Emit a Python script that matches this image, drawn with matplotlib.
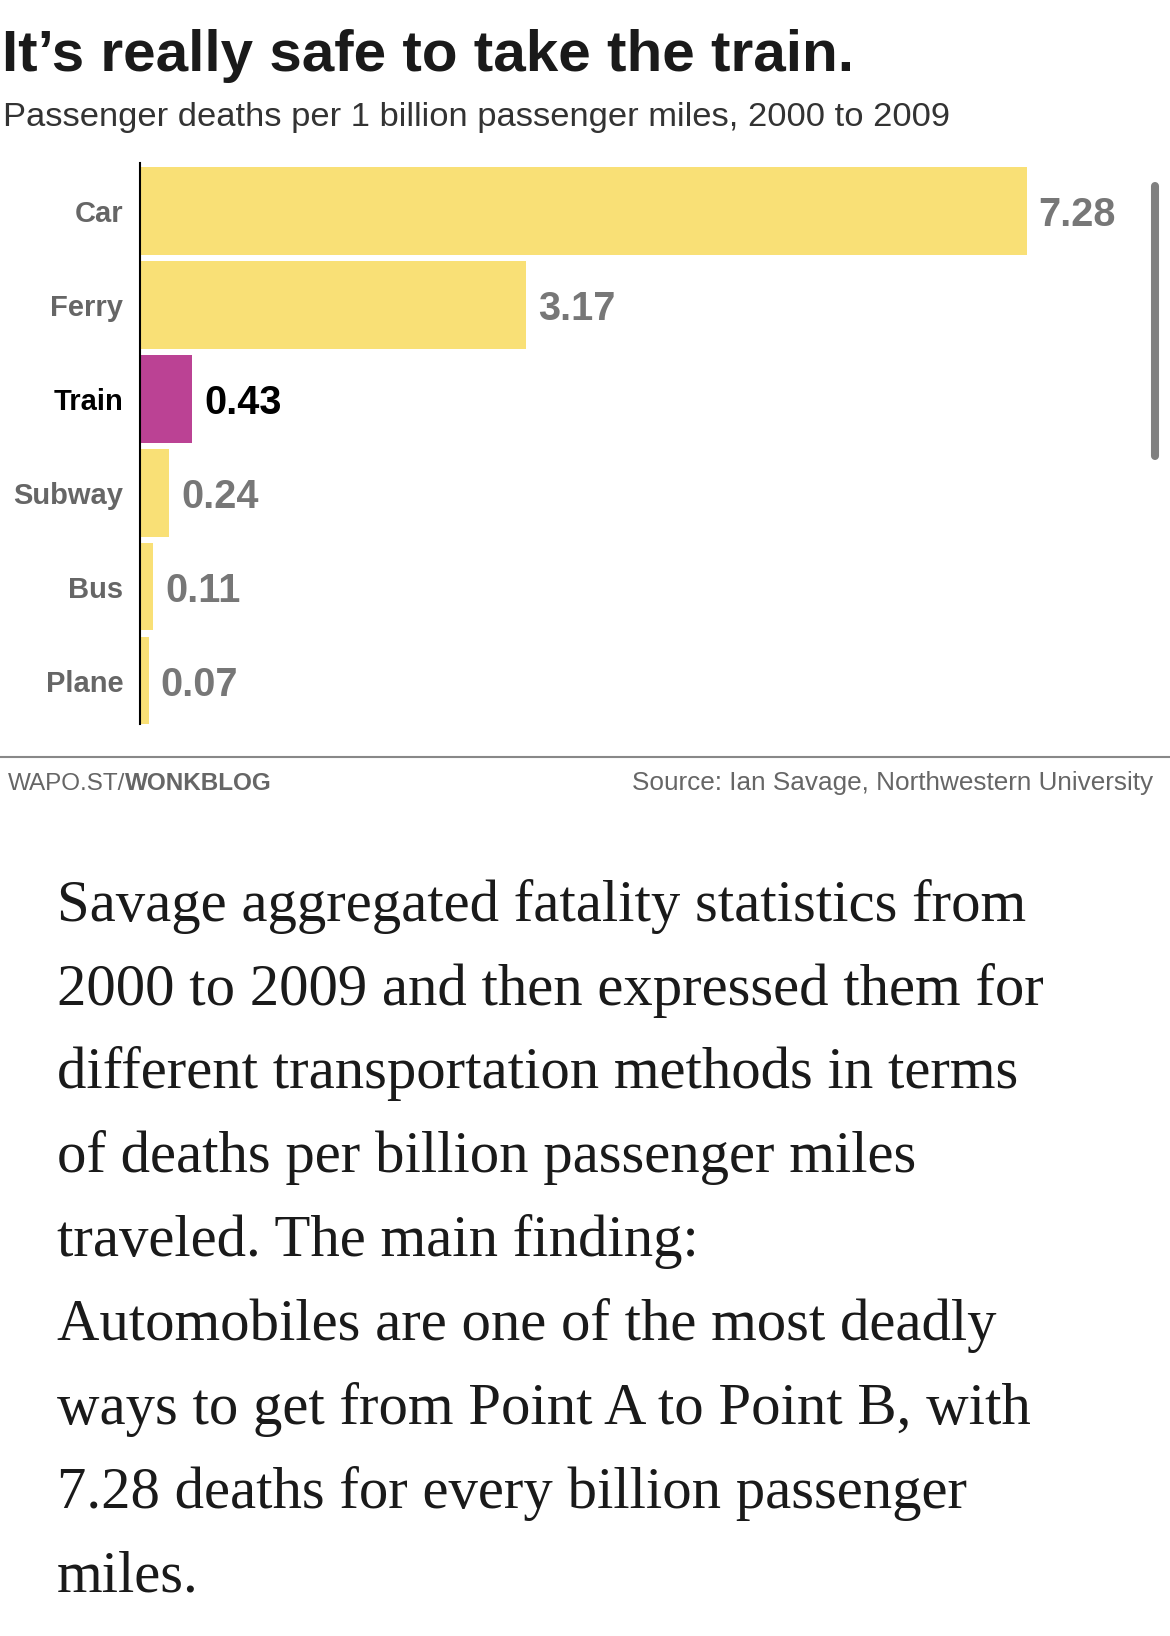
import matplotlib
matplotlib.use("Agg")
import matplotlib.pyplot as plt
from matplotlib.lines import Line2D

# ---------------- data ----------------
categories = ["Car", "Ferry", "Train", "Subway", "Bus", "Plane"]
values = [7.28, 3.17, 0.43, 0.24, 0.11, 0.07]
value_labels = ["7.28", "3.17", "0.43", "0.24", "0.11", "0.07"]
highlight = "Train"

title = "It\u2019s really safe to take the train."
subtitle = "Passenger deaths per 1 billion passenger miles, 2000 to 2009"
credit_light = "WAPO.ST/"
credit_bold = "WONKBLOG"
source = "Source: Ian Savage, Northwestern University"
body_lines = [
    "Savage aggregated fatality statistics from",
    "2000 to 2009 and then expressed them for",
    "different transportation methods in terms",
    "of deaths per billion passenger miles",
    "traveled. The main finding:",
    "Automobiles are one of the most deadly",
    "ways to get from Point A to Point B, with",
    "7.28 deaths for every billion passenger",
    "miles.",
]

# ---------------- style ----------------
W, H, DPI = 1170, 1636, 100
YELLOW = "#F9E076"
MAGENTA = "#BB4294"
GRAY_LABEL = "#666666"
GRAY_VALUE = "#777777"
DARK = "#1a1a1a"
SANS = ["Liberation Sans", "DejaVu Sans"]
SERIF = ["Liberation Serif", "DejaVu Serif"]

plt.rcParams["font.family"] = SANS

fig = plt.figure(figsize=(W / DPI, H / DPI), dpi=DPI)
fig.patch.set_facecolor("white")


def fx(x):
    return x / W


def fy(y):
    return 1 - y / H


# ---------------- bar chart ----------------
ax_left, ax_top, ax_bottom = 140, 163, 724
px_per_unit = 121.8
xmax = 8
ax = fig.add_axes([fx(ax_left), fy(ax_bottom), px_per_unit * xmax / W, (ax_bottom - ax_top) / H])
ax.set_facecolor("none")

ypos = list(range(len(categories)))
colors = [MAGENTA if c == highlight else YELLOW for c in categories]
ax.barh(ypos, values, height=0.934, color=colors, align="center", zorder=1)
ax.set_xlim(0, xmax)
ax.set_ylim(5.463, -0.511)

for s in ["top", "right", "bottom"]:
    ax.spines[s].set_visible(False)
ax.spines["left"].set_color("black")
ax.spines["left"].set_linewidth(1.5)
ax.spines["left"].set_zorder(3)
ax.set_xticks([])
ax.set_yticks(ypos)
ax.set_yticklabels(categories)
ax.tick_params(axis="y", length=0, pad=12)
for lab, cat in zip(ax.get_yticklabels(), categories):
    lab.set_fontsize(21)
    lab.set_fontweight("bold")
    lab.set_color("black" if cat == highlight else GRAY_LABEL)

for i, (v, txt, cat) in enumerate(zip(values, value_labels, categories)):
    ax.annotate(txt, xy=(v, i), xytext=(8.6, 0), textcoords="offset points",
                ha="left", va="center_baseline", fontsize=28.5, fontweight="bold",
                color="black" if cat == highlight else GRAY_VALUE)

# ---------------- headings ----------------
fig.text(fx(2), fy(71), title, fontsize=42, fontweight="bold", color=DARK,
         ha="left", va="baseline")
fig.text(fx(2.5), fy(126), subtitle, fontsize=24.8, color="#333333",
         ha="left", va="baseline")

# scrollbar artifact
fig.add_artist(Line2D([fx(1155), fx(1155)], [fy(186), fy(456)], color="#808080",
                      lw=5.8, solid_capstyle="round", transform=fig.transFigure))

# ---------------- footer ----------------
fig.add_artist(Line2D([0, 1], [fy(757), fy(757)], color="#888888", lw=1.5,
                      transform=fig.transFigure))
t1 = fig.text(fx(8), fy(790), credit_light, fontsize=17.5, color=GRAY_LABEL,
              ha="left", va="baseline")
ax.annotate(credit_bold, xy=(1, 0), xycoords=t1, ha="left", va="bottom",
            fontsize=17.5, fontweight="bold", color=GRAY_LABEL,
            annotation_clip=False)
fig.text(fx(1153), fy(790), source, fontsize=18.8, color=GRAY_LABEL,
         ha="right", va="baseline")

# ---------------- body text ----------------
base0, pitch = 920.6, 83.9
for k, line in enumerate(body_lines):
    fig.text(fx(57), fy(base0 + k * pitch), line, fontsize=42.3, family=SERIF,
             color=DARK, ha="left", va="baseline")

fig.savefig("out.png", dpi=DPI, facecolor="white")
